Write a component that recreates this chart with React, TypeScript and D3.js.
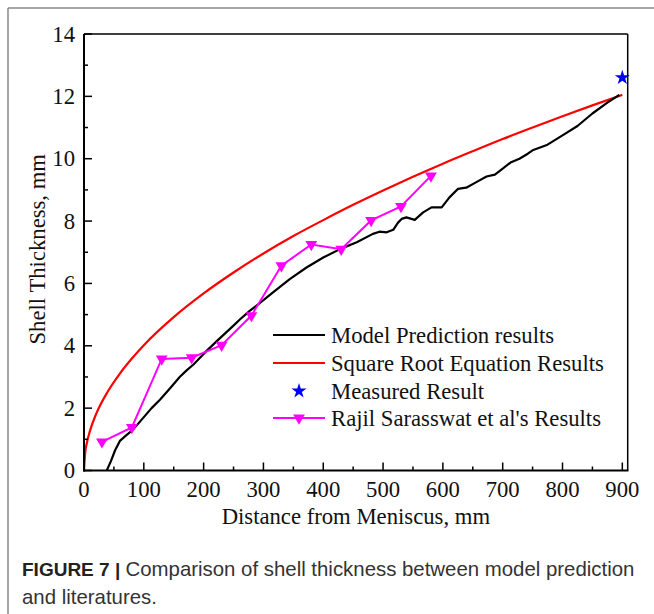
import React from 'react';
import * as d3 from 'd3';

// Model prediction (black)
const modelX = [38, 45, 52, 60, 70, 82, 95, 113, 127, 145, 160, 172, 183, 202, 222, 249, 261, 277, 288, 316, 344, 372, 400, 428, 456, 483, 494, 506, 517, 525, 531, 539, 553, 567, 581, 598, 611, 625, 639, 656, 673, 687, 700, 714, 728, 742, 750, 775, 800, 825, 850, 875, 895];
const modelY = [0, 0.3, 0.65, 0.95, 1.12, 1.31, 1.6, 2.0, 2.27, 2.66, 3.0, 3.22, 3.4, 3.78, 4.15, 4.63, 4.85, 5.12, 5.28, 5.71, 6.14, 6.51, 6.83, 7.1, 7.32, 7.59, 7.66, 7.64, 7.72, 7.95, 8.07, 8.12, 8.04, 8.28, 8.44, 8.44, 8.76, 9.03, 9.07, 9.25, 9.43, 9.49, 9.68, 9.89, 10.0, 10.16, 10.27, 10.45, 10.75, 11.05, 11.45, 11.8, 12.05];

// Square root equation (red)
const sqrtX = [0, 2, 5, 10, 20, 40, 60, 80, 100, 150, 200, 250, 300, 350, 400, 450, 500, 550, 600, 650, 700, 750, 800, 850, 900];
const sqrtY = [0, 0.57, 0.9, 1.27, 1.8, 2.54, 3.11, 3.59, 4.02, 4.92, 5.68, 6.35, 6.96, 7.52, 8.03, 8.52, 8.98, 9.42, 9.84, 10.24, 10.63, 11.0, 11.36, 11.71, 12.05];

// Measured (blue star)
const measuredX = [900];
const measuredY = [12.6];

// Rajil Sarasswat et al (magenta)
const rajilX = [30, 80, 130, 180, 230, 280, 330, 380, 430, 480, 530, 580];
const rajilY = [0.92, 1.38, 3.58, 3.62, 4.02, 4.97, 6.57, 7.25, 7.1, 8.02, 8.47, 9.45];

const xMajor = [0, 100, 200, 300, 400, 500, 600, 700, 800, 900];
const xMinor = [50, 150, 250, 350, 450, 550, 650, 750, 850];
const yMajor = [0, 2, 4, 6, 8, 10, 12, 14];
const yMinor = [1, 3, 5, 7, 9, 11, 13];

const legendItems = [
  { label: 'Model Prediction results', kind: 'line', color: '#000000' },
  { label: 'Square Root Equation Results', kind: 'line', color: '#ff0000' },
  { label: 'Measured Result', kind: 'star', color: '#0000ff' },
  { label: "Rajil Sarasswat et al's Results", kind: 'tri', color: '#ff00ff' },
];

const serif = '"Liberation Serif", "Times New Roman", serif';
const sans = '"Liberation Sans", Arial, sans-serif';

export default function App() {
  const W = 654, H = 614;
  const L = 84, R = 627.7, T = 34, B = 470.5;
  const fs = 22.7;

  const x = d3.scaleLinear().domain([0, 909]).range([L, R]);
  const y = d3.scaleLinear().domain([0, 14]).range([B, T]);

  const model = modelX.map((v, i) => [v, modelY[i]] as [number, number]);
  const sq = sqrtX.map((v, i) => [v, sqrtY[i]] as [number, number]);
  const rajil = rajilX.map((v, i) => [v, rajilY[i]] as [number, number]);

  const lineLin = d3.line<[number, number]>().x(d => x(d[0])).y(d => y(d[1]));
  const lineSmooth = d3.line<[number, number]>().x(d => x(d[0])).y(d => y(d[1])).curve(d3.curveMonotoneX);

  const star = d3.symbol().type(d3.symbolStar).size(70)();
  const tri = d3.symbol().type(d3.symbolTriangle).size(60)();

  const legX1 = 273, legX2 = 325, legTx = 331;
  const legY = [335, 363, 391, 418];

  return (
    <div style={{ position: 'absolute', left: 0, top: 0 }}>
      <svg width={W} height={H} style={{ display: 'block', background: '#fff' }}>
        {/* page frame */}
        <line x1={8} y1={8} x2={W} y2={8} stroke="#8a8a8a" strokeWidth={1.5} />
        <line x1={8} y1={8} x2={8} y2={H} stroke="#8a8a8a" strokeWidth={1.5} />

        <defs>
          <clipPath id="plotClip">
            <rect x={L} y={T - 10} width={R - L + 10} height={B - T + 10} />
          </clipPath>
        </defs>

        {/* series */}
        <g clipPath="url(#plotClip)">
          <path d={lineSmooth(sq) || ''} fill="none" stroke="#ff0000" strokeWidth={2.2} />
          <path d={lineLin(model) || ''} fill="none" stroke="#000" strokeWidth={2.2} strokeLinejoin="round" />
          <path d={lineLin(rajil) || ''} fill="none" stroke="#ff00ff" strokeWidth={2} />
          {rajil.map((d, i) => (
            <path key={i} d={tri || ''} fill="#ff00ff" transform={`translate(${x(d[0])},${y(d[1])}) rotate(180)`} />
          ))}
        </g>
        {measuredX.map((v, i) => (
          <path key={i} d={star || ''} fill="#0000ff" transform={`translate(${x(v)},${y(measuredY[i])})`} />
        ))}

        {/* frame */}
        <line x1={L} y1={T} x2={R} y2={T} stroke="#000" strokeWidth={1.5} />
        <line x1={R} y1={T} x2={R} y2={B} stroke="#000" strokeWidth={1.5} />
        <line x1={L} y1={T} x2={L} y2={B + 1} stroke="#000" strokeWidth={2} />
        <line x1={L - 1} y1={B} x2={R + 0.75} y2={B} stroke="#000" strokeWidth={2} />

        {/* x ticks */}
        {xMajor.map(v => (
          <g key={'xm' + v}>
            <line x1={x(v)} x2={x(v)} y1={B} y2={B - 8} stroke="#000" strokeWidth={1.5} />
            <text x={x(v)} y={497} textAnchor="middle" fontFamily={serif} fontSize={fs} fill="#111">{v}</text>
          </g>
        ))}
        {xMinor.map(v => (
          <line key={'xn' + v} x1={x(v)} x2={x(v)} y1={B} y2={B - 4} stroke="#000" strokeWidth={1.5} />
        ))}

        {/* y ticks */}
        {yMajor.map(v => (
          <g key={'ym' + v}>
            <line x1={L} x2={L + 8} y1={y(v)} y2={y(v)} stroke="#000" strokeWidth={1.5} />
            <text x={75} y={y(v) + 7.5} textAnchor="end" fontFamily={serif} fontSize={fs} fill="#111">{v}</text>
          </g>
        ))}
        {yMinor.map(v => (
          <line key={'yn' + v} x1={L} x2={L + 4} y1={y(v)} y2={y(v)} stroke="#000" strokeWidth={1.5} />
        ))}

        {/* axis titles */}
        <text x={(L + R) / 2} y={524} textAnchor="middle" fontFamily={serif} fontSize={fs} fill="#111">
          Distance from Meniscus, mm
        </text>
        <text transform={`translate(45,${(T + B) / 2 - 3}) rotate(-90)`} textAnchor="middle" fontFamily={serif} fontSize={fs} fill="#111">
          Shell Thickness, mm
        </text>

        {/* legend */}
        {legendItems.map((it, i) => (
          <g key={it.label}>
            {it.kind !== 'star' && (
              <line x1={legX1} x2={legX2} y1={legY[i]} y2={legY[i]} stroke={it.color} strokeWidth={2.2} />
            )}
            {it.kind === 'star' && (
              <path d={star || ''} fill={it.color} transform={`translate(${(legX1 + legX2) / 2},${legY[i]})`} />
            )}
            {it.kind === 'tri' && (
              <path d={tri || ''} fill={it.color} transform={`translate(${(legX1 + legX2) / 2},${legY[i]}) rotate(180)`} />
            )}
            <text x={legTx} y={legY[i] + 8} fontFamily={serif} fontSize={fs} fill="#111">{it.label}</text>
          </g>
        ))}

        {/* caption */}
        <text x={22} y={576} fontFamily={sans} fontSize={20.4} fill="#333">
          <tspan fontWeight="bold" fill="#222" fontSize={19}>FIGURE 7 | </tspan>
          <tspan>Comparison of shell thickness between model prediction</tspan>
        </text>
        <text x={22} y={604} fontFamily={sans} fontSize={20.4} fill="#333">and literatures.</text>
      </svg>
    </div>
  );
}
